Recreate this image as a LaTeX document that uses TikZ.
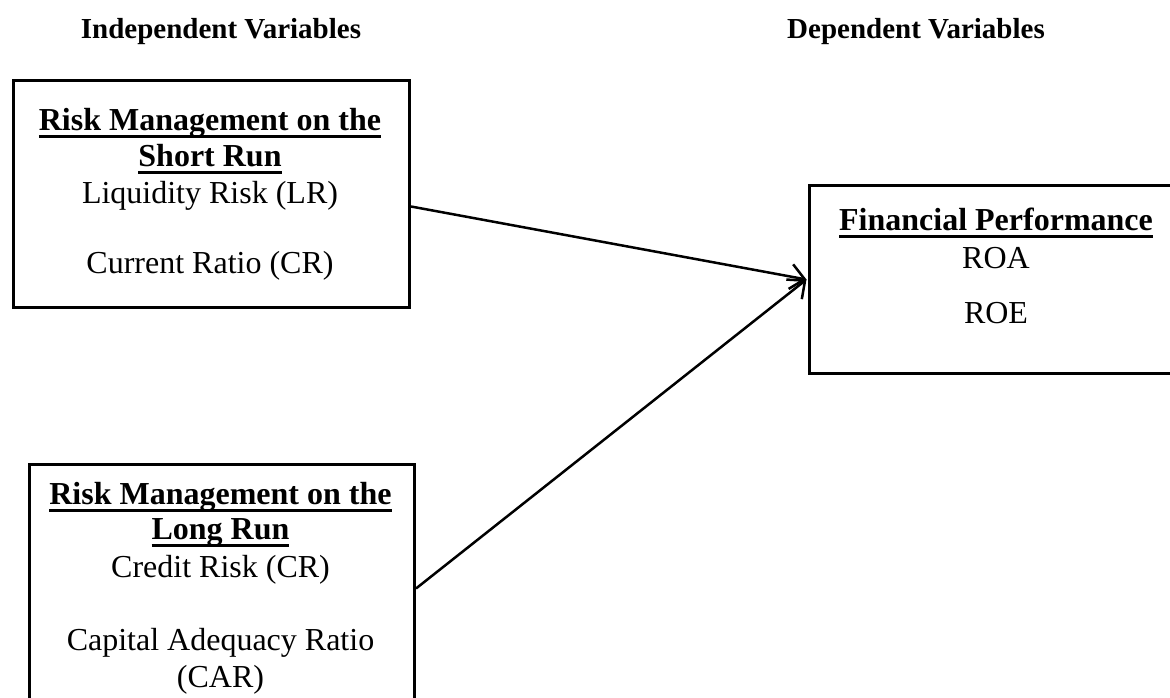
\documentclass[tikz,border=0pt]{standalone}
\usepackage{fontspec}
\setmainfont{Liberation Serif}
\usetikzlibrary{arrows.meta}
\newcommand{\myul}[1]{\setbox0\hbox{#1}\rlap{\rule[-7.5pt]{\wd0}{3pt}}\box0}
\begin{document}
\begin{tikzpicture}[x=1pt,y=-1pt,
  box/.style={draw,line width=3pt,inner sep=0pt,anchor=north west},
  txt/.style={anchor=base,inner sep=0pt,font=\fontsize{32}{36}\selectfont},
  btxt/.style={anchor=base,inner sep=0pt,font=\fontsize{32}{36}\selectfont\bfseries},
  hd/.style={anchor=base,inner sep=0pt,font=\fontsize{29}{33}\selectfont\bfseries},
  link/.style={line width=2.5pt,-{Straight Barb[length=14pt,width=25pt,line width=2.5pt]}}]
\useasboundingbox (0,0) rectangle (1170,698);
\clip (0,0) rectangle (1170,698);
% headings
\node[hd] (h1) at (221,39) {Independent Variables};
\node[hd] (h2) at (916,39) {Dependent Variables};
% boxes
\node[box,minimum width=396pt,minimum height=227pt] (b1) at (12,79) {};
\node[box,minimum width=385pt,minimum height=257pt] (b2) at (28,463) {};
\node[box,minimum width=376pt,minimum height=188pt] (b3) at (808,184) {};
% box 1 text
\node[btxt] (t11) at (210,131) {\myul{Risk Management on the}};
\node[btxt] (t12) at (210,166) {\myul{Short Run}};
\node[txt] (t13) at (210,203) {Liquidity Risk (LR)};
\node[txt] (t14) at (210,273) {Current Ratio (CR)};
% box 2 text
\node[btxt] (t21) at (220.5,504) {\myul{Risk Management on the}};
\node[btxt] (t22) at (220.5,539) {\myul{Long Run}};
\node[txt] (t23) at (220.5,577) {Credit Risk (CR)};
\node[txt] (t24) at (220.5,650) {Capital Adequacy Ratio};
\node[txt] (t25) at (220.5,687) {(CAR)};
% box 3 text
\node[btxt] (t31) at (996,230) {\myul{Financial Performance}};
\node[txt] (t32) at (996,268) {ROA};
\node[txt] (t33) at (996,323) {ROE};
% connectors
\draw[link] ([yshift=-12.5pt]b1.east) -- ([xshift=-1.5pt]b3.west);
\draw[link] ([yshift=4.5pt]b2.east) -- ([xshift=-1.5pt]b3.west);
\end{tikzpicture}
\end{document}
